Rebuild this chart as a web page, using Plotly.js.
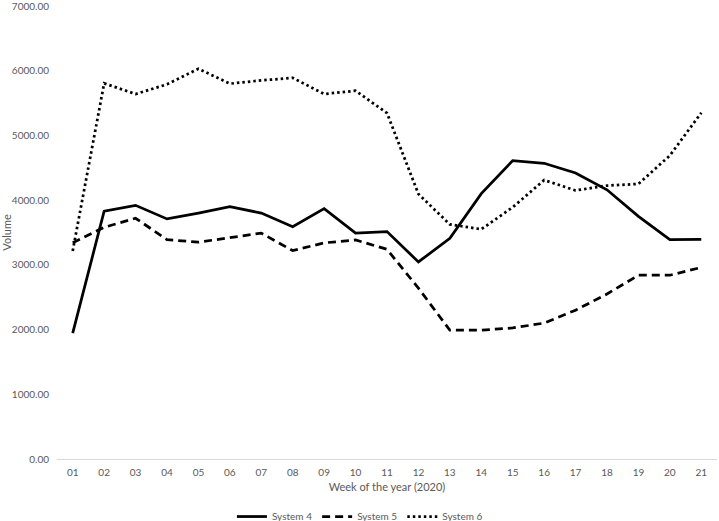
<!DOCTYPE html>
<html>
<head>
<meta charset="utf-8">
<script src="https://cdn.plot.ly/plotly-3.0.1.min.js"></script>
<style>html,body{margin:0;padding:0;background:#fff;}#chart{width:719px;height:521px;}</style>
</head>
<body>
<div id="chart"></div>
<script>
const weeks = ["01","02","03","04","05","06","07","08","09","10","11","12","13","14","15","16","17","18","19","20","21"];
const system4 = [1945,3830,3920,3710,3800,3900,3800,3590,3870,3490,3515,3045,3410,4100,4610,4570,4420,4160,3750,3390,3395];
const system5 = [3340,3580,3720,3390,3350,3420,3490,3220,3340,3385,3240,2640,1990,1990,2025,2100,2300,2550,2840,2840,2960];
const system6 = [3215,5805,5640,5790,6030,5800,5850,5890,5640,5690,5345,4095,3625,3550,3890,4310,4150,4225,4250,4690,5350];
const seriesNames = ["System 4","System 5","System 6"];

const gray = "#595959";
const font = "Lato, 'Open Sans', sans-serif";

const traces = [
  {x: weeks, y: system4, name: seriesNames[0], type: "scatter", mode: "lines",
   line: {color: "#000", width: 2.75}},
  {x: weeks, y: system5, name: seriesNames[1], type: "scatter", mode: "lines",
   line: {color: "#000", width: 2.75, dash: "8px,5px"}},
  {x: weeks, y: system6, name: seriesNames[2], type: "scatter", mode: "lines",
   line: {color: "#000", width: 2.75, dash: "2.5px,3px"}}
];

const layout = {
  width: 719, height: 521,
  margin: {l: 57, r: 2, t: 6, b: 62, autoexpand: false},
  paper_bgcolor: "#fff", plot_bgcolor: "#fff",
  font: {family: font, size: 10, color: gray},
  showlegend: true,
  legend: {orientation: "h", x: 0.459, xanchor: "center", y: -0.095, yanchor: "top",
           font: {family: font, size: 10, color: gray}, itemwidth: 30},
  xaxis: {
    type: "category", range: [-0.5, 20.5], showgrid: false, zeroline: false,
    showline: true, linecolor: "#d9d9d9", linewidth: 1,
    ticks: "", ticklabelstandoff: 4, tickfont: {family: font, size: 10, color: gray},
    title: {text: "Week of the year (2020)", font: {family: font, size: 11, color: gray}, standoff: 6}
  },
  yaxis: {
    range: [0, 7000], dtick: 1000, tick0: 0, tickformat: ".2f",
    showgrid: false, zeroline: false, showline: false, ticks: "",
    ticklabelstandoff: 7, ticklabeloverflow: "allow",
    tickfont: {family: font, size: 10, color: gray},
    title: {text: "Volume", font: {family: font, size: 11, color: gray}, standoff: 8}
  }
};

Plotly.newPlot("chart", traces, layout, {displayModeBar: false, staticPlot: true});
</script>
</body>
</html>
